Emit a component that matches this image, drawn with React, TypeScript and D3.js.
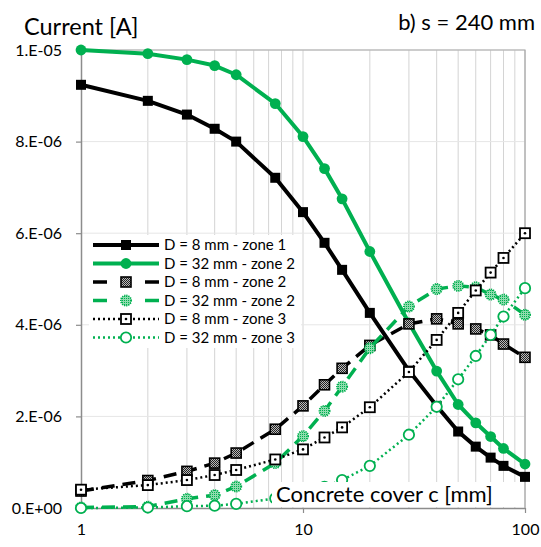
import * as d3 from "d3";
import { useEffect, useRef } from "react";

const WIDTH = 541;
const HEIGHT = 547;
const FONT = "Lato, 'Open Sans', sans-serif";
const GREEN = "#00b050";

// concrete cover c [mm]
const cover = [1, 2, 3, 4, 5, 7.5, 10, 12.5, 15, 20, 30, 40, 50, 60, 70, 80, 100];

// current [A]
const d8Zone1 = [9.24e-6, 8.89e-6, 8.59e-6, 8.28e-6, 8.0e-6, 7.21e-6, 6.46e-6, 5.79e-6, 5.2e-6, 4.26e-6, 3.0e-6, 2.23e-6, 1.67e-6, 1.34e-6, 1.1e-6, 0.92e-6, 0.68e-6];
const d32Zone2 = [1.0e-5, 9.92e-6, 9.79e-6, 9.66e-6, 9.46e-6, 8.83e-6, 8.11e-6, 7.41e-6, 6.75e-6, 5.6e-6, 4.04e-6, 2.99e-6, 2.26e-6, 1.86e-6, 1.56e-6, 1.3e-6, 0.96e-6];
const d8Zone2 = [0.37e-6, 0.6e-6, 0.8e-6, 0.98e-6, 1.2e-6, 1.72e-6, 2.23e-6, 2.69e-6, 3.05e-6, 3.55e-6, 4.02e-6, 4.13e-6, 4.02e-6, 3.91e-6, 3.78e-6, 3.58e-6, 3.29e-6];
const d32Zone2b = [0.01e-6, 0.03e-6, 0.2e-6, 0.28e-6, 0.47e-6, 0.98e-6, 1.57e-6, 2.12e-6, 2.65e-6, 3.49e-6, 4.4e-6, 4.78e-6, 4.85e-6, 4.82e-6, 4.66e-6, 4.55e-6, 4.22e-6];
const d8Zone3 = [0.4e-6, 0.5e-6, 0.61e-6, 0.72e-6, 0.83e-6, 1.06e-6, 1.28e-6, 1.54e-6, 1.76e-6, 2.2e-6, 2.97e-6, 3.67e-6, 4.26e-6, 4.75e-6, 5.14e-6, 5.46e-6, 6.0e-6];
const d32Zone3 = [0.0, 0.01e-6, 0.04e-6, 0.05e-6, 0.09e-6, 0.21e-6, 0.33e-6, 0.46e-6, 0.61e-6, 0.92e-6, 1.6e-6, 2.21e-6, 2.81e-6, 3.32e-6, 3.78e-6, 4.18e-6, 4.8e-6];

const yTicks = [0, 2e-6, 4e-6, 6e-6, 8e-6, 1e-5];
const yTickLabels = ["0.E+00", "2.E-06", "4.E-06", "6.E-06", "8.E-06", "1.E-05"];
const xTicks = [1, 10, 100];
const xTickLabels = ["1", "10", "100"];

type Marker = "square" | "circle" | "checker" | "blob" | "openSquare" | "openCircle";

const series: { label: string; values: number[]; color: string; width: number; dash: string | null; legendDash: string | null; marker: Marker }[] = [
    { label: "D = 8 mm - zone 1", values: d8Zone1, color: "#000", width: 4, dash: null, legendDash: null, marker: "square" },
    { label: "D = 32 mm - zone 2", values: d32Zone2, color: GREEN, width: 4, dash: null, legendDash: null, marker: "circle" },
    { label: "D = 8 mm - zone 2", values: d8Zone2, color: "#000", width: 3.5, dash: "13,8", legendDash: "14,38", marker: "checker" },
    { label: "D = 32 mm - zone 2", values: d32Zone2b, color: GREEN, width: 3.5, dash: "13,8", legendDash: "14,38", marker: "blob" },
    { label: "D = 8 mm - zone 3", values: d8Zone3, color: "#000", width: 2.5, dash: "2,3", legendDash: "2,3", marker: "openSquare" },
    { label: "D = 32 mm - zone 3", values: d32Zone3, color: GREEN, width: 2.5, dash: "2,3", legendDash: "2,3", marker: "openCircle" },
];

function drawMarker(g: d3.Selection<SVGGElement, unknown, null, undefined>, kind: Marker, cx: number, cy: number) {
    if (kind === "square") {
        g.append("rect").attr("x", cx - 5).attr("y", cy - 5).attr("width", 10).attr("height", 10).attr("fill", "#000");
    } else if (kind === "circle") {
        g.append("circle").attr("cx", cx).attr("cy", cy).attr("r", 5.4).attr("fill", GREEN);
    } else if (kind === "checker") {
        g.append("rect").attr("x", cx - 5).attr("y", cy - 5).attr("width", 10).attr("height", 10)
            .attr("fill", "url(#checker)").attr("stroke", "#000").attr("stroke-width", 1.6);
    } else if (kind === "blob") {
        g.append("circle").attr("cx", cx).attr("cy", cy).attr("r", 5.2)
            .attr("fill", "url(#greenDots)").attr("stroke", GREEN).attr("stroke-width", 1.6).attr("stroke-dasharray", "1.2,1");
    } else if (kind === "openSquare") {
        g.append("rect").attr("x", cx - 5).attr("y", cy - 5).attr("width", 10).attr("height", 10)
            .attr("fill", "#fff").attr("stroke", "#000").attr("stroke-width", 1.8);
        g.append("circle").attr("cx", cx).attr("cy", cy).attr("r", 1.3).attr("fill", "#000");
    } else {
        g.append("circle").attr("cx", cx).attr("cy", cy).attr("r", 5.2)
            .attr("fill", "#fff").attr("stroke", GREEN).attr("stroke-width", 1.8);
    }
}

export default function App() {
    const svgRef = useRef<SVGSVGElement | null>(null);

    useEffect(() => {
        if (!svgRef.current) return;
        const svg = d3.select(svgRef.current);
        svg.selectAll("*").remove();

        const x = d3.scaleLog().domain([1, 100]).range([81, 525]);
        const y = d3.scaleLinear().domain([0, 1e-5]).range([508, 50]);

        const defs = svg.append("defs");
        const checker = defs.append("pattern").attr("id", "checker").attr("patternUnits", "userSpaceOnUse").attr("width", 2).attr("height", 2);
        checker.append("rect").attr("width", 2).attr("height", 2).attr("fill", "#bbb");
        checker.append("rect").attr("width", 1).attr("height", 1).attr("fill", "#222");
        checker.append("rect").attr("x", 1).attr("y", 1).attr("width", 1).attr("height", 1).attr("fill", "#222");
        const dots = defs.append("pattern").attr("id", "greenDots").attr("patternUnits", "userSpaceOnUse").attr("width", 2).attr("height", 2);
        dots.append("rect").attr("width", 2).attr("height", 2).attr("fill", "#8fdcae");
        dots.append("rect").attr("width", 1).attr("height", 1).attr("fill", GREEN);

        // grid
        const grid = svg.append("g");
        grid.selectAll("line.v")
            .data(x.ticks().filter((d) => d > 1))
            .enter()
            .append("line")
            .attr("x1", (d) => x(d)).attr("x2", (d) => x(d))
            .attr("y1", y(1e-5)).attr("y2", y(0))
            .attr("stroke", "#d4d4d4").attr("stroke-width", 1);
        grid.selectAll("line.h")
            .data(yTicks.filter((d) => d > 0))
            .enter()
            .append("line")
            .attr("x1", x(1)).attr("x2", x(100))
            .attr("y1", (d) => y(d)).attr("y2", (d) => y(d))
            .attr("stroke", "#e6e6e6").attr("stroke-width", 1);

        // axes
        const axisY = svg.append("g").attr("transform", `translate(${x(1)},0)`)
            .call(d3.axisLeft(y).tickValues(yTicks).tickFormat((_, i) => yTickLabels[i]).tickSize(5).tickSizeOuter(0));
        axisY.select(".domain").attr("stroke", "#8c8c8c").attr("stroke-width", 1.5);
        axisY.selectAll(".tick line").attr("stroke", "#8c8c8c").attr("stroke-width", 1.2);
        axisY.selectAll(".tick text").attr("font-family", FONT).attr("font-size", 16).attr("fill", "#000").attr("x", -19);

        const axisX = svg.append("g").attr("transform", `translate(0,${y(0)})`)
            .call(d3.axisBottom(x).tickValues(xTicks).tickFormat((_, i) => xTickLabels[i]).tickSize(5).tickSizeOuter(0));
        axisX.select(".domain").attr("stroke", "#8c8c8c").attr("stroke-width", 1.5);
        axisX.selectAll(".tick line").attr("stroke", "#8c8c8c").attr("stroke-width", 1.2);
        axisX.selectAll(".tick text").attr("font-family", FONT).attr("font-size", 16).attr("fill", "#000").attr("y", 16);

        // top/right border
        svg.append("path")
            .attr("d", `M${x(1)},${y(1e-5)}H${x(100)}V${y(0)}`)
            .attr("fill", "none").attr("stroke", "#a6a6a6").attr("stroke-width", 1.2);

        // series
        const line = d3.line<number>().x((_, i) => x(cover[i])).y((d) => y(d));
        series.forEach((s) => {
            const sg = svg.append("g");
            sg.append("path")
                .attr("d", line(s.values) ?? "")
                .attr("fill", "none")
                .attr("stroke", s.color)
                .attr("stroke-width", s.width)
                .attr("stroke-linejoin", "round")
                .attr("stroke-dasharray", s.dash);
            s.values.forEach((v, i) => drawMarker(sg, s.marker, x(cover[i]), y(v)));
        });

        // legend
        const legend = svg.append("g");
        legend.append("rect").attr("x", 89).attr("y", 235).attr("width", 212).attr("height", 113).attr("fill", "#fff");
        series.forEach((s, i) => {
            const ly = 245 + i * 18.5;
            const lg = legend.append("g");
            lg.append("line")
                .attr("x1", 93).attr("x2", 159).attr("y1", ly).attr("y2", ly)
                .attr("stroke", s.color).attr("stroke-width", s.width)
                .attr("stroke-dasharray", s.legendDash);
            drawMarker(lg, s.marker, 126, ly);
            lg.append("text")
                .attr("x", 164).attr("y", ly).attr("dy", "0.36em")
                .attr("font-family", FONT).attr("font-size", 15).attr("fill", "#000")
                .text(s.label);
        });

        // titles
        svg.append("text").attr("x", 24).attr("y", 35)
            .attr("font-family", FONT).attr("font-size", 23.5).attr("fill", "#000").text("Current [A]");
        svg.append("text").attr("x", 535).attr("y", 30).attr("text-anchor", "end")
            .attr("font-family", FONT).attr("font-size", 22).attr("fill", "#000").text("b) s = 240 mm");
        svg.append("rect").attr("x", 272).attr("y", 482).attr("width", 252).attr("height", 25).attr("fill", "#fff");
        svg.append("text").attr("x", 276).attr("y", 502)
            .attr("font-family", FONT).attr("font-size", 22).attr("fill", "#000").text("Concrete cover c [mm]");

        return () => {
            svg.selectAll("*").remove();
        };
    }, []);

    return (
        <svg
            ref={svgRef}
            width={WIDTH}
            height={HEIGHT}
            style={{ position: "absolute", left: 0, top: 0, background: "#fff" }}
        />
    );
}
